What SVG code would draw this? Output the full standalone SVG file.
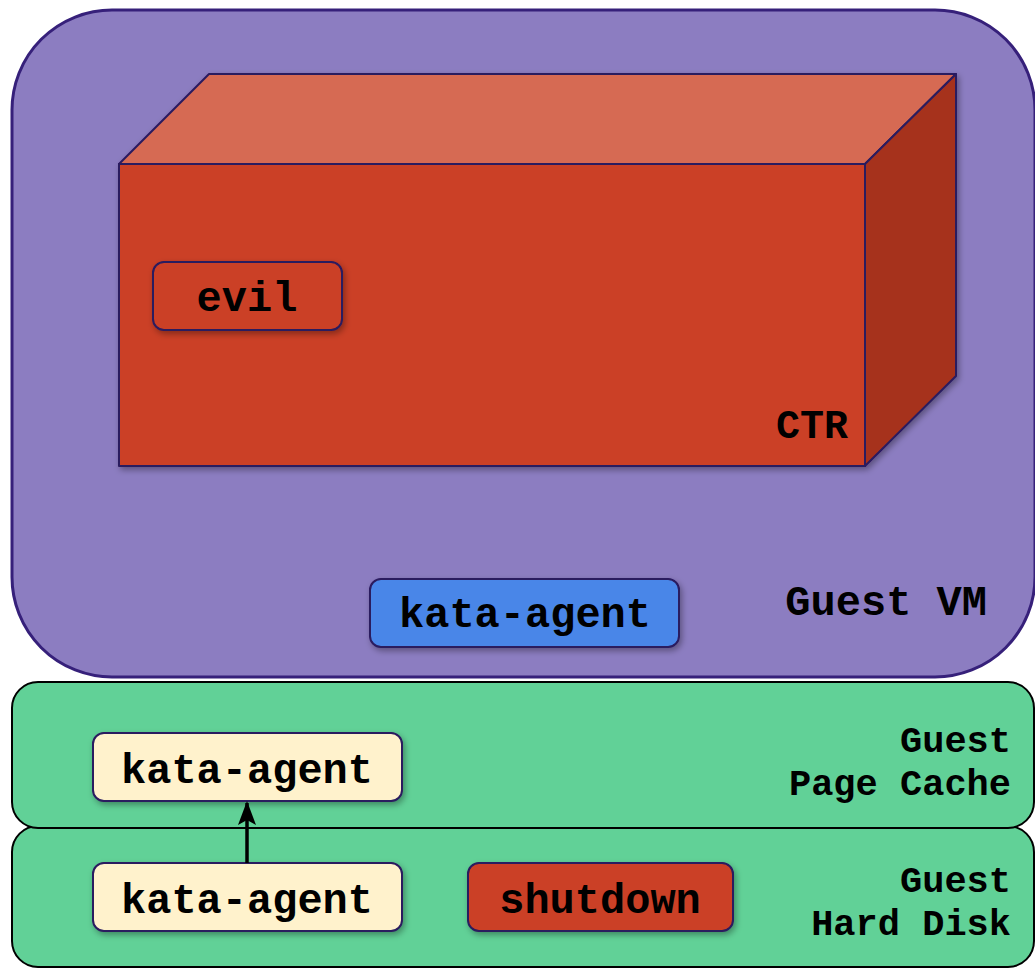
<svg xmlns="http://www.w3.org/2000/svg" width="1035" height="968" viewBox="0 0 1035 968">
<defs>
<style>
.t{font-family:"Liberation Mono","Courier New",monospace;font-weight:bold;fill:#000}
.lbl{font-size:42px;text-anchor:middle}
.side{font-size:37px;text-anchor:end}
.box{stroke:#2a1a5e;stroke-width:2}
.layer{fill:#61d197;stroke:#000;stroke-width:2}
.cube{stroke:#2a1a5e;stroke-width:2;stroke-linejoin:round}
</style>
<filter id="sh" x="-10%" y="-20%" width="130%" height="150%">
<feDropShadow dx="2" dy="3" stdDeviation="3" flood-color="#000" flood-opacity="0.35"/>
</filter>
<marker id="arr" viewBox="0 0 24 18" refX="22" refY="9" markerWidth="24" markerHeight="18" markerUnits="userSpaceOnUse" orient="auto">
<path d="M0,0 L24,9 L0,18 L5,9 Z" fill="#000"/>
</marker>
</defs>

<g id="guest-vm">
<rect x="12" y="10" width="1023" height="667" rx="100" fill="#8c7dc1" stroke="#36207a" stroke-width="3"/>
<text class="t" x="987" y="615" font-size="42" text-anchor="end">Guest VM</text>
</g>

<g id="ctr">
<g filter="url(#sh)">
<polygon class="cube" points="119,164 209,74 956,74 865,164" fill="#d66a52"/>
<polygon class="cube" points="865,164 956,74 956,376 865,466" fill="#a6311f"/>
<rect class="cube" x="119" y="164" width="746" height="302" fill="#cb3f25"/>
</g>
<text class="t" x="848" y="438" font-size="40" text-anchor="end">CTR</text>
</g>

<g id="evil">
<rect class="box" x="153" y="262" width="189" height="68" rx="11" fill="#cb3f25" filter="url(#sh)"/>
<text class="t lbl" x="247" y="311">evil</text>
</g>

<g id="kata-agent-vm">
<rect class="box" x="370" y="579" width="309" height="68" rx="11" fill="#4a86e8" filter="url(#sh)"/>
<text class="t lbl" x="525" y="627">kata-agent</text>
</g>

<g id="hard-disk">
<rect class="layer" x="12" y="826" width="1022" height="141" rx="26"/>
<text class="t side" x="1011" y="892">Guest</text>
<text class="t side" x="1011" y="935">Hard Disk</text>
</g>

<g id="page-cache">
<rect class="layer" x="12" y="682" width="1022" height="146" rx="26"/>
<text class="t side" x="1011" y="752">Guest</text>
<text class="t side" x="1011" y="795">Page Cache</text>
</g>

<g id="kata-agent-cache">
<rect class="box" x="93" y="733" width="309" height="68" rx="11" fill="#fff2cc" filter="url(#sh)"/>
<text class="t lbl" x="247" y="783">kata-agent</text>
</g>

<g id="kata-agent-disk">
<rect class="box" x="93" y="863" width="309" height="68" rx="11" fill="#fff2cc" filter="url(#sh)"/>
<text class="t lbl" x="247" y="913">kata-agent</text>
</g>

<g id="shutdown">
<rect class="box" x="468" y="863" width="265" height="68" rx="11" fill="#cb3f25" filter="url(#sh)"/>
<text class="t lbl" x="600" y="913">shutdown</text>
</g>

<g id="connectors">
<line x1="247" y1="863" x2="247" y2="803" stroke="#000" stroke-width="3.5" marker-end="url(#arr)"/>
</g>
</svg>
